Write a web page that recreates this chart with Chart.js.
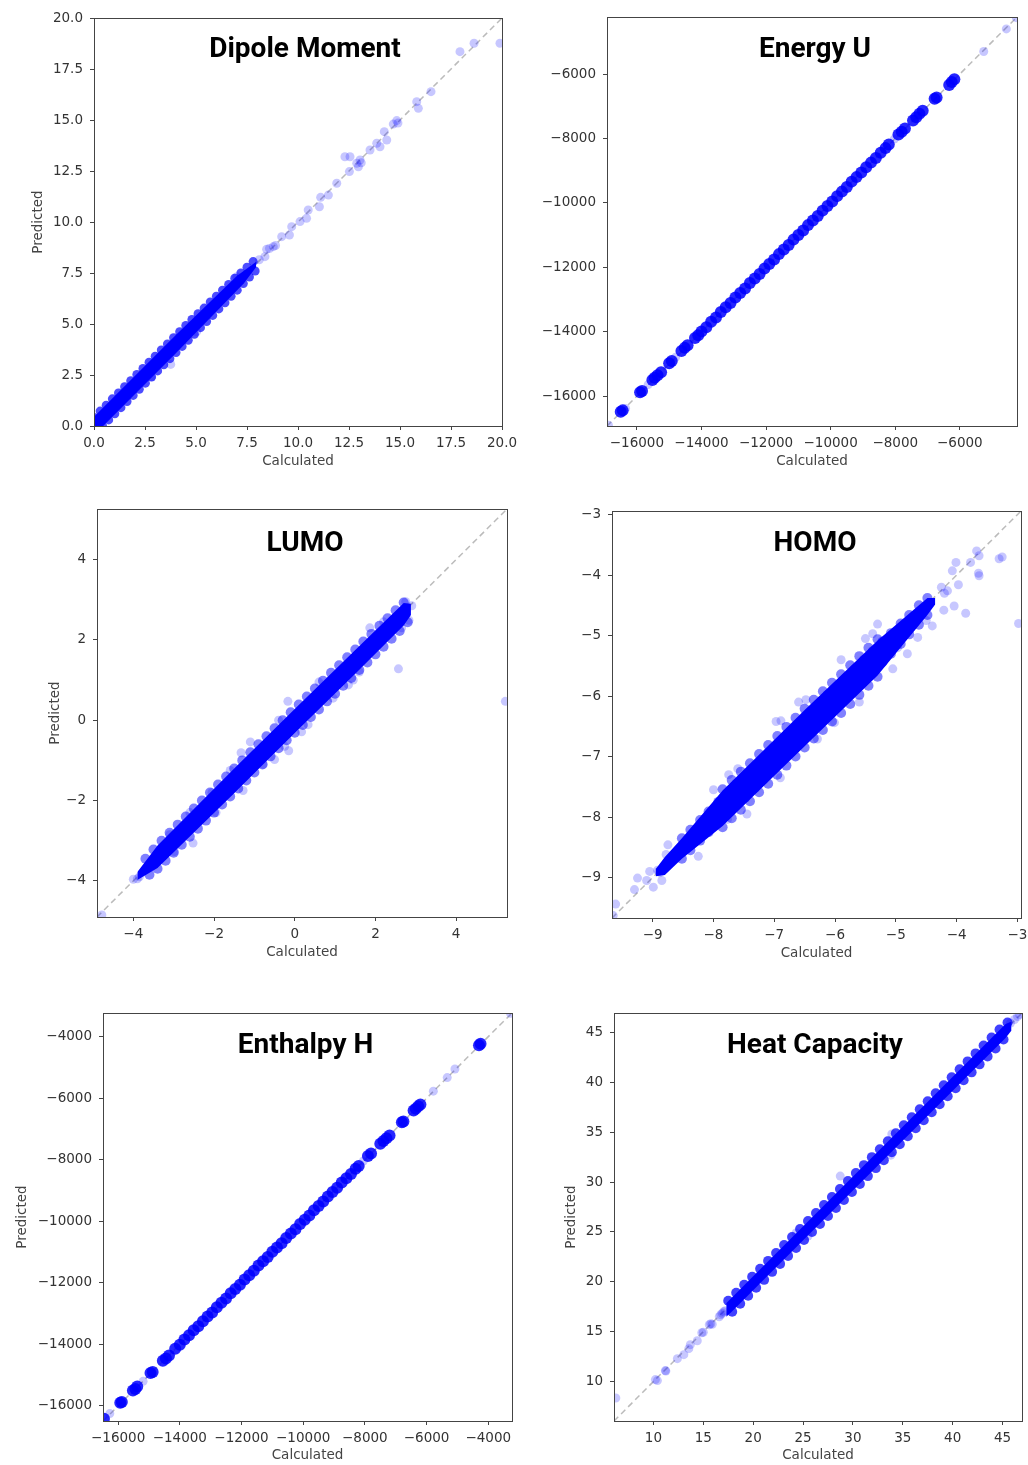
<!DOCTYPE html>
<html>
<head>
<meta charset="utf-8">
<title>Predicted vs Calculated</title>
<script src="https://cdn.jsdelivr.net/npm/chart.js@4.4.1/dist/chart.umd.min.js"></script>
<style>
    html, body { margin: 0; padding: 0; background: #fff; overflow: hidden; }
    .panel { position: absolute; }
</style>
</head>
<body>
<div class="panel" style="left:0;top:0;width:530px;height:485px"><canvas id="c-dipole"></canvas></div>
<div class="panel" style="left:514px;top:0;width:514px;height:485px"><canvas id="c-energy"></canvas></div>
<div class="panel" style="left:0;top:485px;width:530px;height:500px"><canvas id="c-lumo"></canvas></div>
<div class="panel" style="left:514px;top:485px;width:514px;height:500px"><canvas id="c-homo"></canvas></div>
<div class="panel" style="left:0;top:985px;width:530px;height:480px"><canvas id="c-enthalpy"></canvas></div>
<div class="panel" style="left:514px;top:985px;width:514px;height:480px"><canvas id="c-heat"></canvas></div>
<script>
// Each point is [calculated, predicted].
// "Edge" = outline of the saturated core, "Band" = markers along the core, "Scatter" = single points.

// Dipole Moment
const dipoleAxis = [0, 20];
const dipoleTicks = [0, 2.5, 5, 7.5, 10, 12.5, 15, 17.5, 20];
const dipoleTickLabels = ['0.0', '2.5', '5.0', '7.5', '10.0', '12.5', '15.0', '17.5', '20.0'];
const dipoleUpperEdge = [[0, 0.45], [4.0, 4.45], [7.0, 7.35], [7.95, 8.05]];
const dipoleLowerEdge = [[0, 0], [0.45, 0], [4.0, 3.55], [7.35, 7.0], [7.95, 7.8]];
const dipoleBand = [
    [0.0, 0.42], [0.3, 0.73], [0.6, 1.02], [0.9, 1.33], [1.2, 1.62], [1.5, 1.93], [1.8, 2.22], [2.1, 2.53],
    [2.4, 2.82], [2.7, 3.13], [3.0, 3.42], [3.3, 3.73], [3.6, 4.02], [3.9, 4.33], [4.2, 4.62], [4.5, 4.93],
    [4.8, 5.22], [5.1, 5.5], [5.4, 5.78], [5.7, 6.08], [6.0, 6.36], [6.3, 6.66], [6.6, 6.94], [6.9, 7.24],
    [7.2, 7.5], [7.5, 7.78], [7.8, 8.06],
    [0.42, 0.0], [0.72, 0.3], [1.02, 0.6], [1.32, 0.9], [1.62, 1.2], [1.92, 1.5], [2.22, 1.8], [2.52, 2.1],
    [2.82, 2.4], [3.12, 2.7], [3.42, 3.0], [3.72, 3.3], [4.02, 3.6], [4.32, 3.9], [4.62, 4.2], [4.92, 4.5],
    [5.22, 4.82], [5.52, 5.12], [5.82, 5.42], [6.12, 5.74], [6.42, 6.04], [6.72, 6.36], [7.02, 6.66],
    [7.32, 6.98], [7.62, 7.3], [7.9, 7.6]
];
const dipoleScatter = [
    [17.94, 18.35], [18.63, 18.76], [19.9, 18.76], [16.52, 16.39], [15.82, 15.9], [15.9, 15.57], [14.84, 14.97],
    [14.67, 14.8], [14.35, 14.02], [14.23, 14.43], [14.02, 13.69], [13.86, 13.86], [13.53, 13.53], [13.04, 13.04],
    [12.96, 12.71], [12.88, 12.88], [12.55, 13.2], [12.3, 13.2], [12.52, 12.47], [11.9, 11.9], [11.49, 11.32],
    [11.11, 11.21], [11.05, 10.75], [10.5, 10.59], [10.42, 10.18], [10.1, 10.02], [9.69, 9.77], [9.58, 9.36],
    [9.2, 9.28], [8.79, 8.79], [8.46, 8.66], [8.38, 8.3], [7.0, 7.32], [3.76, 3.02], [5.03, 4.62], [2.83, 2.42],
    [8.1, 8.15], [8.6, 8.7], [8.9, 8.85], [13.1, 12.9], [14.9, 14.85]
];

// Energy U
const energyAxis = [-16925, -4230];
const energyTicks = [-16000, -14000, -12000, -10000, -8000, -6000];
const energyTickLabels = ['\u221216000', '\u221214000', '\u221212000', '\u221210000', '\u22128000', '\u22126000'];
const energyUpperEdge = [];
const energyLowerEdge = [];
const energyBand = [
    [-16500, -16480], [-16440, -16440], [-15900, -15880], [-15840, -15840], [-15520, -15500], [-15450, -15430],
    [-15360, -15350], [-15250, -15260], [-15000, -14980], [-14920, -14910], [-14620, -14600], [-14520, -14500],
    [-14430, -14420], [-14200, -14190], [-14100, -14110],
    [-14000, -13990], [-13850, -13860], [-13700, -13690], [-13550, -13560], [-13400, -13390], [-13250, -13240],
    [-13100, -13110], [-12950, -12940], [-12800, -12800], [-12650, -12660], [-12500, -12490], [-12350, -12350],
    [-12200, -12210], [-12050, -12040], [-11900, -11900], [-11750, -11760], [-11600, -11590], [-11450, -11450],
    [-11300, -11310], [-11150, -11140], [-11000, -11000], [-10850, -10860], [-10700, -10690], [-10550, -10550],
    [-10400, -10410], [-10250, -10240], [-10100, -10100], [-9950, -9960], [-9800, -9790], [-9650, -9650],
    [-9500, -9510], [-9350, -9340], [-9200, -9200], [-9050, -9060], [-8900, -8890], [-8750, -8750],
    [-8600, -8610], [-8450, -8440], [-8300, -8300],
    [-8200, -8190], [-7900, -7880], [-7800, -7790], [-7700, -7690], [-7450, -7440], [-7350, -7340],
    [-7250, -7230], [-7150, -7140], [-6780, -6770], [-6720, -6730], [-6330, -6340], [-6250, -6250], [-6170, -6160]
];
const energyScatter = [
    [-16880, -16900], [-16350, -16380], [-15650, -15640], [-14800, -14790], [-8030, -8020],
    [-5260, -5300], [-4560, -4600], [-4250, -4250]
];

// LUMO
const lumoAxis = [-4.9, 5.26];
const lumoTicks = [-4, -2, 0, 2, 4];
const lumoTickLabels = ['\u22124', '\u22122', '0', '2', '4'];
const lumoUpperEdge = [[-3.9, -3.78], [-3.4, -3.12], [-1.5, -1.2], [0.1, 0.38], [1.5, 1.75], [2.7, 2.92], [2.88, 2.9]];
const lumoLowerEdge = [[-3.9, -3.98], [-3.4, -3.68], [-1.5, -1.82], [0.1, -0.22], [1.5, 1.16], [2.7, 2.36], [2.88, 2.62]];
const lumoBand = [
    [-3.7, -3.45], [-3.5, -3.22], [-3.3, -3.0], [-3.1, -2.8], [-2.9, -2.6], [-2.7, -2.4], [-2.5, -2.2],
    [-2.3, -2.0], [-2.1, -1.8], [-1.9, -1.6], [-1.7, -1.4], [-1.5, -1.2], [-1.3, -1.0], [-1.1, -0.8],
    [-0.9, -0.6], [-0.7, -0.4], [-0.5, -0.2], [-0.3, 0.0], [-0.1, 0.2], [0.1, 0.39], [0.3, 0.59], [0.5, 0.79],
    [0.7, 0.98], [0.9, 1.18], [1.1, 1.37], [1.3, 1.57], [1.5, 1.76], [1.7, 1.96], [1.9, 2.15], [2.1, 2.35],
    [2.3, 2.54], [2.5, 2.74], [2.7, 2.93],
    [-3.6, -3.85], [-3.4, -3.7], [-3.2, -3.5], [-3.0, -3.3], [-2.8, -3.1], [-2.6, -2.9], [-2.4, -2.7],
    [-2.2, -2.5], [-2.0, -2.3], [-1.8, -2.1], [-1.6, -1.9], [-1.4, -1.7], [-1.2, -1.5], [-1.0, -1.3],
    [-0.8, -1.1], [-0.6, -0.9], [-0.4, -0.7], [-0.2, -0.5], [0.0, -0.31], [0.2, -0.12], [0.4, 0.08],
    [0.6, 0.27], [0.8, 0.47], [1.0, 0.66], [1.2, 0.86], [1.4, 1.05], [1.6, 1.25], [1.8, 1.44], [2.0, 1.64],
    [2.2, 1.83], [2.4, 2.03], [2.6, 2.22], [2.8, 2.44]
];
const lumoScatter = [
    [5.22, 0.47], [2.57, 1.28], [2.83, 2.49], [1.86, 2.3], [1.33, 0.88], [1.45, 1.0], [-0.17, 0.47],
    [0.17, -0.29], [0.33, -0.11], [-0.15, -0.76], [-0.25, -0.65], [-1.1, -0.54], [-1.33, -0.81], [-0.5, -0.98],
    [-0.78, -1.1], [-1.28, -1.75], [-1.95, -2.3], [-2.52, -3.06], [-2.98, -3.27], [-3.48, -3.59], [-4.0, -3.96],
    [-3.85, -3.9], [-3.9, -3.95], [-4.78, -4.85], [2.9, 2.85], [2.75, 2.95], [2.65, 2.3], [2.2, 2.45],
    [-1.6, -1.25], [-2.05, -1.8], [0.6, 0.95], [0.95, 0.55], [1.6, 1.2], [-0.4, 0.0], [-2.6, -2.3], [-3.1, -2.85]
];

// HOMO
const homoAxis = [-9.67, -2.94];
const homoTicks = [-9, -8, -7, -6, -5, -4, -3];
const homoTickLabels = ['\u22129', '\u22128', '\u22127', '\u22126', '\u22125', '\u22124', '\u22123'];
const homoUpperEdge = [[-8.95, -8.86], [-8.8, -8.66], [-8.52, -8.35], [-7.85, -7.56], [-6.5, -6.23], [-5.3, -5.08], [-4.48, -4.38], [-4.35, -4.38]];
const homoLowerEdge = [[-8.95, -8.98], [-8.8, -8.96], [-8.52, -8.69], [-7.85, -8.15], [-6.5, -6.83], [-5.3, -5.66], [-4.48, -4.66], [-4.35, -4.48]];
const homoBand = [
    [-8.52, -8.35], [-8.38, -8.21], [-8.22, -8.05], [-8.08, -7.91], [-7.92, -7.75], [-7.78, -7.61], [-7.62, -7.45],
    [-7.48, -7.33], [-7.32, -7.18], [-7.18, -7.04], [-7.02, -6.88], [-6.88, -6.74], [-6.72, -6.58], [-6.58, -6.44],
    [-6.42, -6.28], [-6.28, -6.14], [-6.12, -5.98], [-5.98, -5.86], [-5.82, -5.7], [-5.68, -5.56], [-5.52, -5.4],
    [-5.38, -5.26], [-5.22, -5.1], [-5.08, -4.96], [-4.92, -4.8], [-4.78, -4.66], [-4.62, -4.5], [-4.48, -4.38],
    [-8.52, -8.69], [-8.38, -8.55], [-8.22, -8.39], [-8.08, -8.25], [-7.92, -8.09], [-7.78, -7.95], [-7.62, -7.79],
    [-7.48, -7.68], [-7.32, -7.52], [-7.18, -7.38], [-7.02, -7.22], [-6.88, -7.08], [-6.72, -6.92], [-6.58, -6.78],
    [-6.42, -6.62], [-6.28, -6.48], [-6.12, -6.32], [-5.98, -6.2], [-5.82, -6.04], [-5.68, -5.9], [-5.52, -5.74],
    [-5.38, -5.6], [-5.22, -5.44], [-5.08, -5.3], [-4.92, -5.14], [-4.78, -4.98], [-4.62, -4.82], [-4.48, -4.66],
    [-7.85, -7.54], [-7.7, -7.39], [-7.55, -7.25], [-7.4, -7.11], [-7.25, -6.96], [-7.1, -6.81], [-6.95, -6.66],
    [-6.8, -6.51], [-6.65, -6.36], [-6.5, -6.21], [-6.35, -6.06], [-6.2, -5.92], [-6.05, -5.78], [-5.9, -5.64],
    [-5.75, -5.49], [-5.6, -5.34], [-5.45, -5.2], [-5.3, -5.06],
    [-7.85, -8.17], [-7.7, -8.02], [-7.55, -7.88], [-7.4, -7.74], [-7.25, -7.59], [-7.1, -7.45], [-6.95, -7.3],
    [-6.8, -7.15], [-6.65, -7.0], [-6.5, -6.85], [-6.35, -6.7], [-6.2, -6.56], [-6.05, -6.42], [-5.9, -6.28],
    [-5.75, -6.13], [-5.6, -5.98], [-5.45, -5.83], [-5.3, -5.68]
];
const homoScatter = [
    [-2.98, -4.8], [-3.3, -3.73], [-3.25, -3.7], [-3.63, -4.01], [-3.64, -3.97], [-3.67, -3.6], [-3.63, -3.68],
    [-3.77, -3.79], [-4.01, -3.79], [-4.07, -3.93], [-3.85, -4.63], [-4.04, -4.51], [-4.21, -4.58], [-3.97, -4.16],
    [-4.15, -4.26], [-4.4, -4.84], [-5.3, -4.81], [-5.38, -4.97], [-4.81, -5.3], [-4.64, -5.03], [-4.97, -5.2],
    [-6.89, -6.41], [-6.97, -6.42], [-6.48, -6.06], [-6.29, -6.71], [-6.01, -6.44], [-7.6, -7.2], [-7.77, -8.04],
    [-8.75, -8.46], [-8.78, -8.62], [-8.9, -8.9], [-8.88, -8.92], [-8.92, -8.88], [-9.05, -8.9], [-9.25, -9.01],
    [-9.3, -9.2], [-8.99, -9.16], [-9.61, -9.44], [-9.65, -9.63], [-8.0, -7.55], [-7.75, -7.3], [-8.25, -8.65],
    [-7.45, -7.95], [-6.6, -6.1], [-5.9, -5.4], [-5.5, -5.05], [-5.05, -5.55], [-5.6, -6.1], [-6.9, -7.35],
    [-4.5, -4.75], [-4.25, -4.2], [-4.2, -4.3], [-8.85, -9.05], [-9.1, -9.05]
];

// Enthalpy H
const enthalpyAxis = [-16490, -3230];
const enthalpyTicks = [-16000, -14000, -12000, -10000, -8000, -6000, -4000];
const enthalpyTickLabels = ['\u221216000', '\u221214000', '\u221212000', '\u221210000', '\u22128000', '\u22126000', '\u22124000'];
const enthalpyUpperEdge = [];
const enthalpyLowerEdge = [];
const enthalpyBand = [
    [-16460, -16420], [-15930, -15900], [-15880, -15870], [-15520, -15500], [-15440, -15450], [-15380, -15370],
    [-14950, -14930], [-14880, -14900], [-14550, -14530], [-14450, -14460], [-14350, -14360], [-14150, -14140],
    [-14000, -14010], [-13850, -13840], [-13700, -13700], [-13550, -13540], [-13400, -13410], [-13250, -13250],
    [-13100, -13090], [-12950, -12960], [-12800, -12790], [-12650, -12650], [-12500, -12510], [-12350, -12340],
    [-12200, -12200], [-12050, -12060], [-11900, -11890], [-11750, -11750], [-11600, -11610], [-11450, -11440],
    [-11300, -11300], [-11150, -11160], [-11000, -10990], [-10850, -10850], [-10700, -10710], [-10550, -10540],
    [-10400, -10400], [-10250, -10260], [-10100, -10090], [-9950, -9950], [-9800, -9810], [-9650, -9640],
    [-9500, -9500], [-9350, -9360], [-9200, -9190], [-9050, -9050], [-8900, -8910], [-8750, -8740],
    [-8600, -8600], [-8450, -8460], [-8300, -8290],
    [-8200, -8200], [-7900, -7880], [-7800, -7800], [-7500, -7480], [-7400, -7390], [-7300, -7300],
    [-7200, -7210], [-6800, -6780], [-6750, -6760], [-6420, -6400], [-6350, -6340], [-6270, -6260],
    [-6200, -6200], [-4300, -4280], [-4250, -4230]
];
const enthalpyScatter = [
    [-16270, -16250], [-15190, -15200], [-8050, -8040], [-5780, -5770], [-5330, -5330], [-5080, -5050], [-3280, -3240]
];

// Heat Capacity
const heatAxis = [6.05, 46.95];
const heatTicks = [10, 15, 20, 25, 30, 35, 40, 45];
const heatTickLabels = ['10', '15', '20', '25', '30', '35', '40', '45'];
const heatUpperEdge = [[17.3, 17.85], [30.0, 30.55], [45.3, 45.85], [45.9, 46.1]];
const heatLowerEdge = [[17.3, 16.5], [17.8, 16.95], [30.0, 29.15], [45.3, 44.45], [45.9, 45.2]];
const heatBand = [
    [17.5, 18.1], [18.3, 18.9], [19.1, 19.7], [19.9, 20.5], [20.7, 21.3], [21.5, 22.1], [22.3, 22.9],
    [23.1, 23.7], [23.9, 24.5], [24.7, 25.3], [25.5, 26.1], [26.3, 26.9], [27.1, 27.7], [27.9, 28.5],
    [28.7, 29.3], [29.5, 30.1], [30.3, 30.9], [31.1, 31.7], [31.9, 32.5], [32.7, 33.3], [33.5, 34.1],
    [34.3, 34.9], [35.1, 35.7], [35.9, 36.5], [36.7, 37.3], [37.5, 38.1], [38.3, 38.9], [39.1, 39.7],
    [39.9, 40.5], [40.7, 41.3], [41.5, 42.1], [42.3, 42.9], [43.1, 43.7], [43.9, 44.5], [44.7, 45.3], [45.5, 46.0],
    [17.9, 17.0], [18.7, 17.8], [19.5, 18.6], [20.3, 19.4], [21.1, 20.2], [21.9, 21.0], [22.7, 21.8],
    [23.5, 22.6], [24.3, 23.4], [25.1, 24.2], [25.9, 25.0], [26.7, 25.8], [27.5, 26.6], [28.3, 27.4],
    [29.1, 28.2], [29.9, 29.0], [30.7, 29.8], [31.5, 30.6], [32.3, 31.4], [33.1, 32.2], [33.9, 33.0],
    [34.7, 33.8], [35.5, 34.6], [36.3, 35.4], [37.1, 36.2], [37.9, 37.0], [38.7, 37.8], [39.5, 38.6],
    [40.3, 39.4], [41.1, 40.2], [41.9, 41.0], [42.7, 41.8], [43.5, 42.6], [44.3, 43.4], [45.1, 44.3]
];
const heatScatter = [
    [6.23, 8.36], [10.2, 10.2], [10.4, 10.1], [11.2, 11.1], [11.25, 11.05], [12.4, 12.3], [13.05, 12.7],
    [13.55, 13.3], [13.7, 13.7], [14.4, 14.1], [14.85, 14.9], [15.0, 14.95], [15.6, 15.7], [15.75, 15.8],
    [15.9, 15.75], [16.6, 16.5], [16.75, 16.7], [17.05, 17.0], [16.9, 16.85], [17.2, 17.1], [28.73, 30.6],
    [33.9, 34.82], [33.8, 32.7], [45.8, 45.95], [46.2, 46.3], [46.5, 46.6], [46.7, 46.8], [25.5, 24.6], [24.3, 24.9]
];

// Page layout of each panel: canvas box [left, top, width, height], plot box [left, top, right, bottom]
const panels = [
    { id: 'dipole', title: 'Dipole Moment', box: [0, 0, 530, 485], plot: [94, 18, 502, 426], titleAt: [305, 56.5],
      predictedX: 38.3, calculatedDy: 35.7, axis: dipoleAxis, ticks: dipoleTicks, labels: dipoleTickLabels,
      upper: dipoleUpperEdge, lower: dipoleLowerEdge, band: dipoleBand, points: dipoleScatter, bandRadius: 4.5, bandAlpha: 0.7 },
    { id: 'energy', title: 'Energy U', box: [514, 0, 514, 485], plot: [607, 17, 1017, 426], titleAt: [815, 57],
      predictedX: null, calculatedDy: 35, axis: energyAxis, ticks: energyTicks, labels: energyTickLabels,
      upper: energyUpperEdge, lower: energyLowerEdge, band: energyBand, points: energyScatter, bandRadius: 6, bandAlpha: 0.85 },
    { id: 'lumo', title: 'LUMO', box: [0, 485, 530, 500], plot: [97, 509, 507, 917], titleAt: [305, 551],
      predictedX: 55, calculatedDy: 36.3, axis: lumoAxis, ticks: lumoTicks, labels: lumoTickLabels,
      upper: lumoUpperEdge, lower: lumoLowerEdge, band: lumoBand, points: lumoScatter, bandRadius: 5, bandAlpha: 0.5 },
    { id: 'homo', title: 'HOMO', box: [514, 485, 514, 500], plot: [612, 511, 1021, 918], titleAt: [815, 551],
      predictedX: null, calculatedDy: 36, axis: homoAxis, ticks: homoTicks, labels: homoTickLabels,
      upper: homoUpperEdge, lower: homoLowerEdge, band: homoBand, points: homoScatter, bandRadius: 5, bandAlpha: 0.5 },
    { id: 'enthalpy', title: 'Enthalpy H', box: [0, 985, 530, 480], plot: [103, 1013, 512, 1421], titleAt: [305.5, 1052.5],
      predictedX: 22.3, calculatedDy: 34, axis: enthalpyAxis, ticks: enthalpyTicks, labels: enthalpyTickLabels,
      upper: enthalpyUpperEdge, lower: enthalpyLowerEdge, band: enthalpyBand, points: enthalpyScatter, bandRadius: 6, bandAlpha: 0.85 },
    { id: 'heat', title: 'Heat Capacity', box: [514, 985, 514, 480], plot: [614, 1013, 1022, 1421], titleAt: [815, 1052.5],
      predictedX: 571.7, calculatedDy: 34, axis: heatAxis, ticks: heatTicks, labels: heatTickLabels,
      upper: heatUpperEdge, lower: heatLowerEdge, band: heatBand, points: heatScatter, bandRadius: 5, bandAlpha: 0.75 }
];

// Frame around the plot area and the bold title inside it
const panelPlugin = {
    id: 'panel',
    afterDraw(chart, args, opts) {
        const ctx = chart.ctx;
        const a = chart.chartArea;
        ctx.save();
        ctx.strokeStyle = '#444';
        ctx.lineWidth = 1;
        ctx.strokeRect(a.left + 0.5, a.top + 0.5, a.right - a.left, a.bottom - a.top);
        ctx.fillStyle = '#000';
        ctx.font = 'bold 28px Roboto';
        ctx.textAlign = 'center';
        ctx.textBaseline = 'alphabetic';
        ctx.fillText(opts.text, opts.x, opts.y);
        ctx.restore();
    }
};

const X_AXIS_HEIGHT = 44;
const LINE_HALF = 13.5 * 1.2 / 2;

function makeChart(p) {
    const [bx, by, bw, bh] = p.box;
    const [pl, pt, pr, pb] = p.plot;
    const toXY = arr => arr.map(d => ({ x: d[0], y: d[1] }));
    const tickLabel = v => {
        const i = p.ticks.indexOf(v);
        return i >= 0 ? p.labels[i] : '';
    };
    const setTicks = s => {
        s.ticks = p.ticks.filter(v => v >= s.min && v <= s.max).map(v => ({ value: v }));
    };
    const tickFont = { family: 'DejaVu Sans', size: 13.5 };

    const axisCommon = {
        type: 'linear',
        min: p.axis[0],
        max: p.axis[1],
        afterBuildTicks: setTicks,
        border: { display: false },
        grid: { drawOnChartArea: false, drawTicks: true, tickLength: 4, color: '#444', lineWidth: 1 }
    };

    const datasets = [{
        type: 'line',
        data: [{ x: p.axis[0], y: p.axis[0] }, { x: p.axis[1], y: p.axis[1] }],
        borderColor: 'rgba(175, 175, 175, 0.85)',
        borderWidth: 1.5,
        borderDash: [6, 4],
        pointRadius: 0,
        fill: false,
        order: 6,
        clip: 0
    }];
    if (p.upper.length) {
        // saturated core of the cloud, filled between its two edges
        datasets.push({
            type: 'line', data: toXY(p.upper), borderWidth: 0, pointRadius: 0, fill: false, order: 5, clip: 0
        });
        datasets.push({
            type: 'line', data: toXY(p.lower), borderWidth: 0, pointRadius: 0,
            fill: '-1', backgroundColor: 'rgb(0, 0, 255)', order: 4, clip: 0
        });
    }
    datasets.push({
        data: toXY(p.band),
        backgroundColor: 'rgba(0, 0, 255, ' + p.bandAlpha + ')',
        borderWidth: 0,
        pointRadius: p.bandRadius,
        order: 2,
        clip: 0
    });
    datasets.push({
        data: toXY(p.points),
        backgroundColor: 'rgba(0, 0, 255, 0.22)',
        borderWidth: 0,
        pointRadius: 4.5,
        order: 1,
        clip: 0
    });

    new Chart(document.getElementById('c-' + p.id), {
        type: 'scatter',
        data: { datasets: datasets },
        options: {
            responsive: true,
            maintainAspectRatio: false,
            animation: false,
            events: [],
            layout: {
                autoPadding: false,
                padding: {
                    left: 0,
                    top: pt - by,
                    right: bx + bw - pr,
                    bottom: by + bh - pb - X_AXIS_HEIGHT
                }
            },
            plugins: {
                legend: { display: false },
                tooltip: { enabled: false },
                panel: { text: p.title, x: p.titleAt[0] - bx, y: p.titleAt[1] - by }
            },
            scales: {
                x: Object.assign({}, axisCommon, {
                    afterFit: s => {
                        s.height = X_AXIS_HEIGHT;
                        s.paddingLeft = 0;
                        s.paddingRight = 0;
                    },
                    ticks: { autoSkip: false, maxRotation: 0, padding: 5, color: '#333', font: tickFont, callback: tickLabel },
                    title: {
                        display: true,
                        text: 'Calculated',
                        color: '#444',
                        font: tickFont,
                        padding: { top: 0, bottom: Math.max(0, X_AXIS_HEIGHT - LINE_HALF - p.calculatedDy) }
                    }
                }),
                y: Object.assign({}, axisCommon, {
                    afterFit: s => {
                        s.width = pl - bx;
                        s.paddingTop = 0;
                        s.paddingBottom = 0;
                    },
                    ticks: { autoSkip: false, padding: 7, color: '#333', font: tickFont, callback: tickLabel },
                    title: {
                        display: p.predictedX !== null,
                        text: 'Predicted',
                        color: '#444',
                        font: tickFont,
                        padding: { top: p.predictedX !== null ? p.predictedX - bx - LINE_HALF : 0, bottom: 0 }
                    }
                })
            }
        },
        plugins: [panelPlugin]
    });
}

panels.forEach(makeChart);
</script>
</body>
</html>
